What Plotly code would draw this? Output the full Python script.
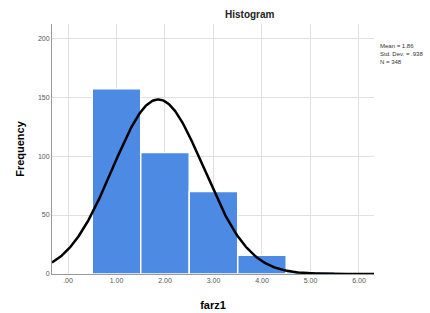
import numpy as np
import plotly.graph_objects as go

bins = [1, 2, 3, 4, 5]
counts = [157, 103, 70, 16, 2]
mean_val = 1.86
sd_val = 0.938
n_val = 348
x_ticks = [0, 1, 2, 3, 4, 5, 6]
x_labels = [".00", "1.00", "2.00", "3.00", "4.00", "5.00", "6.00"]
y_ticks = [0, 50, 100, 150, 200]

xs = np.linspace(-0.33, 6.31, 300)
ys = n_val * 1.0 / (sd_val * np.sqrt(2 * np.pi)) * np.exp(-0.5 * ((xs - mean_val) / sd_val) ** 2)

L, R, T, B = 52, 56, 24, 39
plot_w = 430 - L - R
plot_h = 313 - T - B

fig = go.Figure()
fig.add_trace(go.Bar(x=bins, y=counts, width=1,
                     marker=dict(color="#4d8ae4", line=dict(color="white", width=1.5))))
fig.add_trace(go.Scatter(x=xs, y=ys, mode="lines", line=dict(color="black", width=2.5)))

fig.update_layout(
    width=430, height=313,
    margin=dict(l=L, r=R, t=T, b=B),
    paper_bgcolor="white", plot_bgcolor="white",
    showlegend=False,
    font=dict(family="Liberation Sans, Arial, sans-serif"),
    xaxis=dict(range=[-0.33, 6.31], tickvals=x_ticks, ticktext=x_labels, automargin=False,
               showgrid=True, gridcolor="#e0e0e0", gridwidth=1,
               showline=True, linecolor="#999999", linewidth=1,
               ticks="", tickfont=dict(size=7, color="#555555"), zeroline=False,
               title=dict(text="<b>farz1</b>", font=dict(size=11, color="black"), standoff=17)),
    yaxis=dict(range=[0, 212], tickvals=y_ticks, automargin=False,
               showgrid=True, gridcolor="#e0e0e0", gridwidth=1,
               showline=True, linecolor="#999999", linewidth=1,
               ticks="", tickfont=dict(size=7, color="#555555"), zeroline=False,
               title=dict(text="<b>Frequency</b>", font=dict(size=11, color="black"), standoff=11)),
    annotations=[
        dict(text="<b>Histogram</b>", x=(250 - L) / plot_w, y=(313 - B - 15) / plot_h,
             xref="paper", yref="paper", yanchor="middle",
             showarrow=False, font=dict(size=10, color="#222222")),
        dict(text="Mean = 1.86<br>Std. Dev. = .938<br>N = 348",
             x=(378 - L) / plot_w, y=(313 - B - 41) / plot_h,
             xref="paper", yref="paper", xanchor="left", yanchor="top", align="left",
             showarrow=False, font=dict(size=6, color="#333333")),
    ],
)

fig.write_html("out.html", config={"displayModeBar": False},
               post_script="document.body.style.margin='0';")
